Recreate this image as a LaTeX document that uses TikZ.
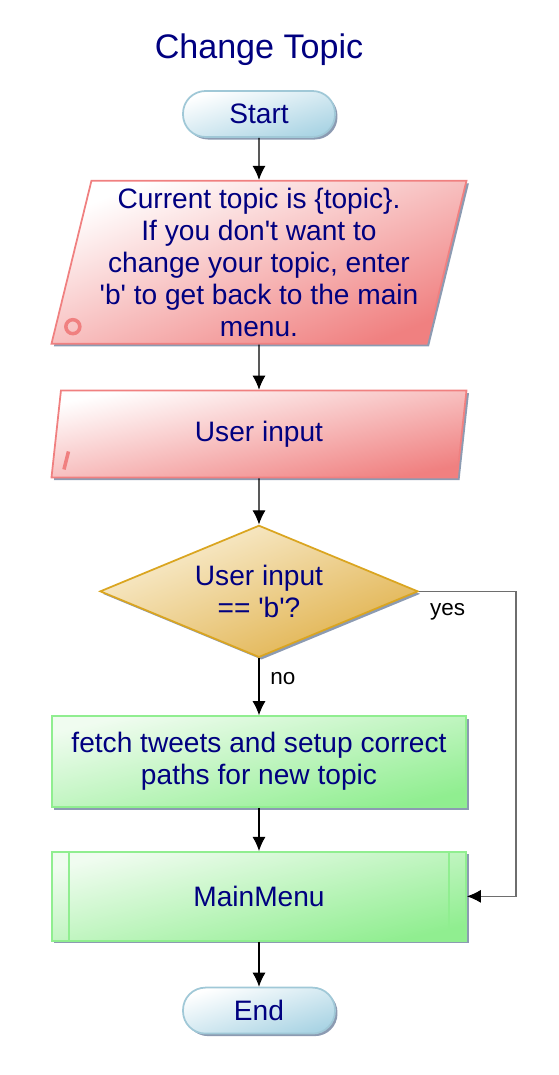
\documentclass[tikz,border=0pt]{standalone}
\usepackage{fontspec}
\setmainfont{Liberation Sans}[Ligatures=TeXOff]
\usetikzlibrary{positioning,shapes.geometric,shadows,arrows.meta}
\definecolor{navytext}{RGB}{0,0,128}
\definecolor{termfill}{RGB}{170,212,228}
\definecolor{termline}{RGB}{160,200,215}
\definecolor{iofill}{RGB}{240,128,128}
\definecolor{decfill}{RGB}{224,176,72}
\definecolor{decline}{RGB}{218,165,32}
\definecolor{proclight}{RGB}{240,252,240}
\definecolor{procfill}{RGB}{144,238,144}
\definecolor{shadowc}{RGB}{128,144,170}
\definecolor{loopgray}{RGB}{110,110,110}
\tikzset{>={Latex[length=2.8mm,width=2.6mm]}}

\begin{document}
\begin{tikzpicture}[node distance=0.84cm,
    every node/.style={align=center, text=navytext, font=\fontsize{16}{18.2}\selectfont},
    boxshadow/.style={drop shadow={shadow xshift=0.05cm, shadow yshift=-0.05cm, fill=shadowc, opacity=0.9}},
    termbox/.style={rectangle, rounded corners=0.45cm, minimum width=3.04cm, minimum height=0.92cm,
        draw=termline, line width=1pt, top color=white, bottom color=termfill, shading angle=17, boxshadow},
    iobox/.style={trapezium, trapezium left angle=76, trapezium right angle=104, trapezium stretches body=true,
        minimum width=8.3cm, draw=iofill, line width=1pt, top color=white, bottom color=iofill, boxshadow},
    decbox/.style={diamond, aspect=2.41, minimum width=6.36cm, minimum height=2.64cm, inner sep=0pt,
        draw=decline, line width=1pt, top color={rgb,255:red,250;green,240;blue,215}, bottom color=decfill, shading angle=22, boxshadow},
    procbox/.style={rectangle, minimum width=8.28cm, minimum height=1.82cm,
        draw=procfill, line width=1pt, top color=proclight, bottom color=procfill, shading angle=13, boxshadow},
    flow/.style={-{Latex[length=2.8mm,width=2.6mm,color=black]}, line width=0.6pt},
    marker/.style={draw=iofill, line width=2pt},
    lbl/.style={text=black, font=\fontsize{12.8}{15}\selectfont}]
    \useasboundingbox (-5.18,2.28) rectangle (6.0,-19.22);

    % Nodes
    \node (start) [termbox] {Start};
    \node (title) [above=0.48cm of start, inner sep=0pt, font=\fontsize{19.4}{22}\selectfont] {Change Topic};
    \node (msg) [iobox, minimum height=3.26cm, shading angle=22, below=of start] {Current topic is \{topic\}.\\If you don't want to\\change your topic, enter\\'b' to get back to the main\\menu.};
    \node (inp) [iobox, minimum height=1.74cm, shading angle=12, below=0.9cm of msg] {User input};
    \node (dec) [decbox, below=0.92cm of inp] {User input\\== 'b'?};
    \node (proc) [procbox, below=1.14cm of dec] {fetch tweets and setup correct\\paths for new topic};
    \node (mm) [procbox, minimum height=1.78cm, below=0.86cm of proc] {MainMenu};
    \node (end) [termbox, below=0.9cm of mm] {End};
    \coordinate (yesx) at (5.14,0);

    % Markers
    \draw[marker] ([shift={(0.45cm,0.36cm)}]msg.bottom left corner) circle (0.14cm);
    \draw[marker] ([shift={(0.36cm,0.54cm)}]inp.bottom left corner) -- ([shift={(0.27cm,0.18cm)}]inp.bottom left corner);
    \draw[procfill, line width=1pt] ([xshift=0.36cm]mm.north west) -- ([xshift=0.36cm]mm.south west);
    \draw[procfill, line width=1pt] ([xshift=-0.36cm]mm.north east) -- ([xshift=-0.36cm]mm.south east);

    % Arrows
    \draw[flow] (start) -- (msg);
    \draw[flow] (msg) -- (inp);
    \draw[flow] (inp) -- (dec);
    \draw[flow] (dec) -- node[lbl, right, pos=0.35, xshift=0.1cm] {no} (proc);
    \draw[flow] (proc) -- (mm);
    \draw[flow] (mm) -- (end);
    \draw[flow, loopgray] (dec.east) -- (dec.east -| yesx) |- (mm.east);
    \node (yes) [lbl, anchor=north west] at ([xshift=0.1cm,yshift=-0.12cm]dec.east) {yes};
\end{tikzpicture}
\end{document}
